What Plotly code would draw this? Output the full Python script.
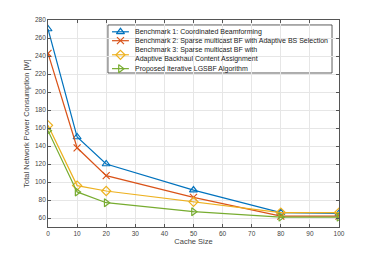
import plotly.graph_objects as go

cache_size = [0, 10, 20, 50, 80, 100]
bench1 = [270, 150, 120, 91, 66, 65]
bench2 = [243, 138, 107, 83, 62, 62]
bench3 = [163, 96, 90, 78, 66, 66]
proposed = [157, 89, 77, 67, 61, 61]

names = [
    "Benchmark 1: Coordinated Beamforming",
    "Benchmark 2: Sparse multicast BF with Adaptive BS Selection",
    "Benchmark 3: Sparse multicast BF with<br>Adaptive Backhaul Content Assignment",
    "Proposed Iterative LGSBF Algorithm",
]
colors = ["#0072BD", "#D95319", "#EDB120", "#77AC30"]
symbols = ["triangle-up-open", "x-thin-open", "diamond-open", "triangle-right-open"]
series = [bench1, bench2, bench3, proposed]

fig = go.Figure()
for n, c, s, y in zip(names, colors, symbols, series):
    fig.add_trace(go.Scatter(
        x=cache_size, y=y, name=n, mode="lines+markers", showlegend=False,
        line=dict(color=c, width=1.2),
        marker=dict(symbol=s, size=7, color=c, line=dict(color=c, width=1.2)),
    ))

# custom compact legend (layout decoration, in plot-area fractions)
leg_box = dict(x0=0.206, x1=0.976, y0=0.744, y1=0.976)
sample_x = [0.220, 0.278]
marker_x = 0.249
text_x = 0.292
text_rows = [0.943, 0.900, 0.832, 0.765]
fig.add_shape(type="rect", xref="paper", yref="paper", **leg_box,
              line=dict(color="#333333", width=0.8), fillcolor="white", layer="between")
for n, c, s, ry in zip(names, colors, symbols, text_rows):
    fig.add_shape(type="line", xref="paper", yref="paper",
                  x0=sample_x[0], x1=sample_x[1], y0=ry, y1=ry,
                  line=dict(color=c, width=1.2), layer="above")
    fig.add_trace(go.Scatter(
        x=[marker_x], y=[ry], xaxis="x2", yaxis="y2", mode="markers", showlegend=False,
        marker=dict(symbol=s, size=7, color=c, line=dict(color=c, width=1.2)),
        hoverinfo="skip",
    ))
    fig.add_annotation(x=text_x, y=ry, xref="paper", yref="paper", text=n,
                       showarrow=False, xanchor="left", yanchor="middle", align="left",
                       font=dict(size=7, color="#222222"))

axis_common = dict(
    showgrid=True, gridcolor="#e6e6e6", gridwidth=0.7,
    showline=True, linecolor="#555555", linewidth=0.8, mirror="ticks",
    ticks="inside", ticklen=3, tickcolor="#555555",
    tickfont=dict(size=6.5, color="#444444"), zeroline=False, automargin=False,
)
fig.update_xaxes(range=[0, 100], dtick=10, title=dict(text="Cache Size", font=dict(size=7.5, color="#444444"), standoff=3), **axis_common)
fig.update_yaxes(range=[50, 280], dtick=20, title=dict(text="Total Network Power Consumption [W]", font=dict(size=7.5, color="#444444"), standoff=4), **axis_common)

fig.update_layout(
    width=366, height=247,
    margin=dict(l=40, r=35, t=12, b=28),
    paper_bgcolor="white", plot_bgcolor="white",
    font=dict(family="Liberation Sans, Arial, sans-serif"),
    showlegend=False,
    xaxis2=dict(overlaying="x", range=[0, 1], visible=False, fixedrange=True),
    yaxis2=dict(overlaying="y", range=[0, 1], visible=False, fixedrange=True),
)

fig.write_html("out.html")
